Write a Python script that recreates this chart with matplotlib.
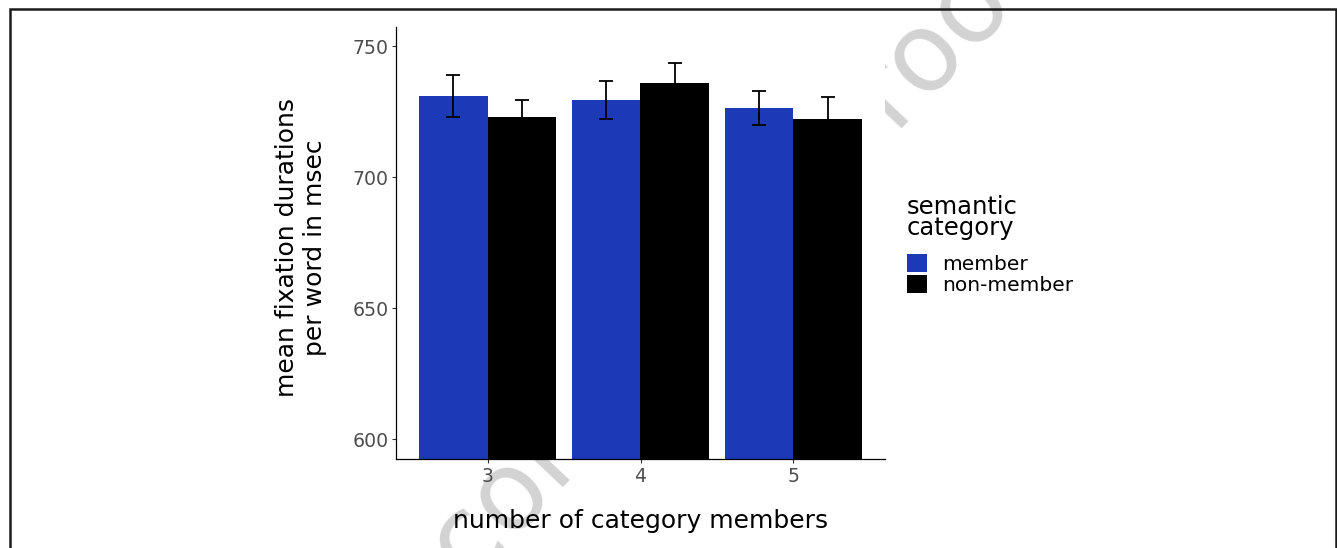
import numpy as np

import matplotlib
matplotlib.use("Agg")
import matplotlib.pyplot as plt  # noqa: E402
from matplotlib.patches import Patch, Rectangle  # noqa: E402
from matplotlib.font_manager import FontProperties  # noqa: E402

# values
groups = [3, 4, 5]
member_means = [730.9, 729.4, 726.3]
member_err = [8.0, 7.4, 6.5]
nonmember_means = [722.9, 735.9, 722.1]
nonmember_err = [6.4, 7.6, 8.3]
series_labels = ["member", "non-member"]
legend_title = "semantic\ncategory"
y_ticks = [600, 650, 700, 750]

BLUE = "#1c3ab6"
W, H = 1337, 548

plt.rcParams["font.family"] = ["DejaVu Sans"]

fig = plt.figure(figsize=(W / 100, H / 100), dpi=100)
ax = fig.add_axes([396 / W, 1 - 459 / H, (885 - 396) / W, (459 - 27) / H])

x = np.array(groups, dtype=float)
bw = 0.45
ax.bar(x - bw / 2, member_means, width=bw, color=BLUE, zorder=2)
ax.bar(x + bw / 2, nonmember_means, width=bw, color="black", zorder=2)
ax.errorbar(x - bw / 2, member_means, yerr=member_err, fmt="none",
            ecolor="black", elinewidth=1.3, capsize=5, capthick=1.3, zorder=3)
ax.errorbar(x + bw / 2, nonmember_means, yerr=nonmember_err, fmt="none",
            ecolor="black", elinewidth=1.3, capsize=5, capthick=1.3, zorder=3)

ax.set_xlim(2.4, 5.6)
ax.set_ylim(592.4, 757.3)
ax.set_xticks(groups)
ax.set_xticklabels([str(g) for g in groups])
ax.set_yticks(y_ticks)

for side in ("top", "right"):
    ax.spines[side].set_visible(False)
for side in ("left", "bottom"):
    ax.spines[side].set_linewidth(0.9)
    ax.spines[side].set_color("black")
    ax.spines[side].set_zorder(4)

ax.tick_params(axis="both", length=3, width=0.8, color="#333333",
               labelsize=13.6, labelcolor="#4d4d4d")
ax.tick_params(axis="x", pad=2.5)
ax.tick_params(axis="y", pad=2.2)

ax.set_xlabel("number of category members", fontsize=18, va="top")
ax.xaxis.set_label_coords(0.5, (459 - 509) / 432)
ax.set_ylabel("mean fixation durations\nper word in msec", fontsize=18,
              linespacing=1.2)
ax.yaxis.set_label_coords((327 - 396) / 489, 0.5 - 4.5 / 432)

# legend: title as its own text, keys below it
fig.text(907 / W, 1 - 194.5 / H, legend_title, fontsize=17.5, ha="left",
         va="top", linespacing=0.86)
handles = [Patch(facecolor=BLUE, edgecolor="none"),
           Patch(facecolor="black", edgecolor="none")]
ax.legend(handles, series_labels, loc="upper left",
          bbox_to_anchor=(907 / W, 1 - 254 / H),
          bbox_transform=fig.transFigure, frameon=False,
          fontsize=14.5, handlelength=1.0, handleheight=1.0,
          handletextpad=0.75, labelspacing=0.05,
          borderpad=0, borderaxespad=0)

# outer frame around the figure
fig.patches.append(Rectangle((9.5 / W, -0.2), (1335.5 - 9.5) / W, 1.2 - 9 / H,
                             transform=fig.transFigure, fill=False,
                             linewidth=1.8, edgecolor="#1a1a1a", zorder=5))

# faint watermark behind the plot
wm_prop = FontProperties(family="DejaVu Sans", size=79)
renderer = fig.canvas.get_renderer()
w_pre = renderer.get_text_width_height_descent("Unc", wm_prop, ismath=False)[0]
w_o = renderer.get_text_width_height_descent("o", wm_prop, ismath=False)[0]
x_h = renderer.get_text_width_height_descent("x", wm_prop, ismath=False)[1]
theta = np.degrees(np.arctan2(446, 421))
u = np.array([np.cos(np.radians(theta)), np.sin(np.radians(theta))])
n = np.array([-u[1], u[0]])
o_center = np.array([512.0, H - 498.0])
start = o_center - (w_pre + w_o / 2) * u - (x_h / 2) * n
fig.text(start[0] / W, start[1] / H, "Uncorrected Proof", fontproperties=wm_prop,
         rotation=theta, rotation_mode="anchor", ha="left", va="baseline",
         color="#d3d3d3", zorder=-1)

fig.savefig("out.png", dpi=100)
plt.close(fig)
